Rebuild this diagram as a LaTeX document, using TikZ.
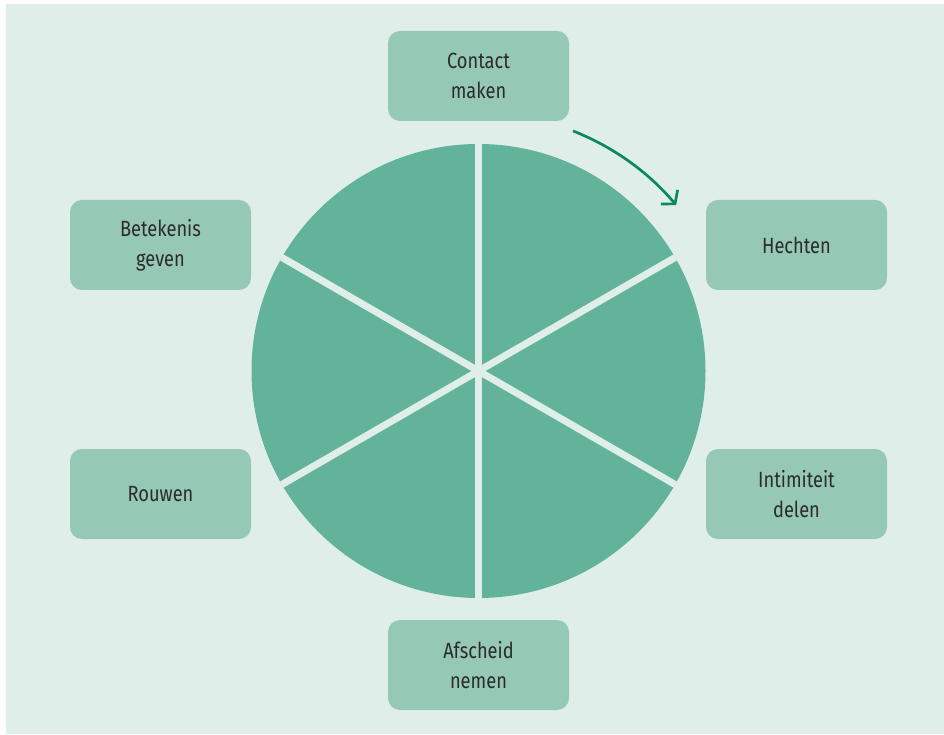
\documentclass[tikz,border=0pt]{standalone}
\usepackage{fontspec}
\setmainfont{Fira Sans}[FakeStretch=0.83]
\usepackage{xcolor}
\usepackage{tikz}
\usetikzlibrary{positioning, arrows.meta, calc}
\definecolor{paleground}{HTML}{DFEEE8}
\definecolor{piegreen}{HTML}{62B39A}
\definecolor{boxgreen}{HTML}{96C8B6}
\definecolor{arrowgreen}{HTML}{0A8A5C}
\definecolor{labelgrey}{HTML}{2B2B2B}

\tikzset{
  phase/.style={fill=boxgreen, rounded corners=12pt, minimum width=181pt,
                minimum height=90pt, align=center, text=labelgrey,
                font=\fontsize{22pt}{30pt}\selectfont},
  divider/.style={draw=paleground, line width=7pt}
}

\begin{document}
\begin{tikzpicture}[x=1pt, y=1pt]
    \useasboundingbox (0,0) rectangle (944,734);
    \fill[paleground] (6,0) rectangle (944,730);

    % wheel of six phases
    \node[circle, fill=piegreen, minimum size=454pt, inner sep=0pt] (wheel) at (478.5,363) {};
    \draw[divider] (wheel.90) -- (wheel.270);
    \draw[divider] (wheel.30) -- (wheel.210);
    \draw[divider] (wheel.150) -- (wheel.330);

    % phases
    \node[phase] (contact) at (478.5,658) {Contact\\maken};
    \node[phase] (hechten) at (796.5,489) {Hechten};
    \node[phase] (intimiteit) at (796.5,240) {Intimiteit\\delen};
    \node[phase] (afscheid) at (478.5,69) {Afscheid\\nemen};
    \node[phase] (rouwen) at (160.5,240) {Rouwen};
    \node[phase] (betekenis) at (160.5,489) {Betekenis\\geven};

    % direction
    \coordinate (turnstart) at ($(wheel.center)+(68.5:258)$);
    \draw[arrowgreen, line width=2.7pt, -{Straight Barb[length=9pt, width=22pt]}]
      (turnstart) arc[start angle=68.5, end angle=40, radius=258];
  \end{tikzpicture}
\end{document}
